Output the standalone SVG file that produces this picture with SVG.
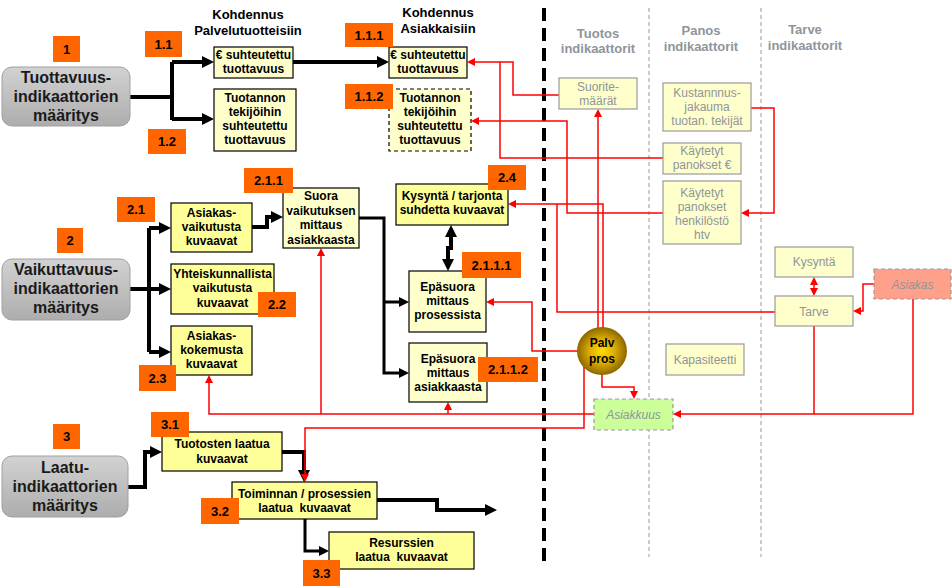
<svg xmlns="http://www.w3.org/2000/svg" width="952" height="586" viewBox="0 0 952 586">
<style>
.big{font-family:"Liberation Sans",Arial,sans-serif;font-size:16px;font-weight:bold;fill:#1a1a1a;text-anchor:middle}
.lbl rect{fill:#FF6600}
.lbl text{font-family:"Liberation Sans",Arial,sans-serif;font-size:13px;font-weight:bold;fill:#000;text-anchor:middle}
.yb{fill:#FFFF99;stroke:#000;stroke-width:1.2}
.yp{fill:#FFFFCC;stroke:#000;stroke-width:1.2}
.bt{font-family:"Liberation Sans",Arial,sans-serif;font-size:12px;font-weight:bold;fill:#000;text-anchor:middle}
.gb{fill:#FFFFCC;stroke:#999;stroke-width:1.2}
.gt{font-family:"Liberation Sans",Arial,sans-serif;font-size:12px;fill:#8E959B;text-anchor:middle}
.hd{font-family:"Liberation Sans",Arial,sans-serif;font-size:13px;font-weight:bold;fill:#000;text-anchor:middle}
.hg{font-family:"Liberation Sans",Arial,sans-serif;font-size:13px;font-weight:bold;fill:#8E959B;text-anchor:middle}
.k{fill:none;stroke:#000;stroke-width:4;stroke-linejoin:miter}
.k3{fill:none;stroke:#000;stroke-width:3}
.r{fill:none;stroke:#FF0000;stroke-width:1.5}
</style>
<defs>
<linearGradient id="gg" x1="0" y1="0" x2="0" y2="1"><stop offset="0" stop-color="#D2D2D2"/><stop offset="1" stop-color="#ADADAD"/></linearGradient>
<radialGradient id="gold" cx="0.5" cy="0.5" r="0.55"><stop offset="0" stop-color="#FFDD00"/><stop offset="0.45" stop-color="#E0AE00"/><stop offset="1" stop-color="#7A5A00"/></radialGradient>
<marker id="ab" markerUnits="userSpaceOnUse" viewBox="0 0 12 12" markerWidth="12" markerHeight="12" refX="6" refY="6" orient="auto-start-reverse"><path d="M0,0 L12,6 L0,12 z" fill="#000"/></marker>
<marker id="as" markerUnits="userSpaceOnUse" viewBox="0 0 10 10" markerWidth="10" markerHeight="10" refX="5" refY="5" orient="auto-start-reverse"><path d="M0,0 L10,5 L0,10 z" fill="#000"/></marker>
<marker id="ar" markerUnits="userSpaceOnUse" viewBox="0 0 8 8" markerWidth="8" markerHeight="8" refX="5" refY="4" orient="auto-start-reverse"><path d="M0,0 L8,4 L0,8 z" fill="#FF0000"/></marker>
</defs>
<rect width="952" height="586" fill="#fff"/>

<g id="separators">
<path d="M544,8 V562" stroke="#000" stroke-width="4" stroke-dasharray="13 7"/>
<path d="M649,8 V557 M761,8 V557" stroke="#999" stroke-width="1" stroke-dasharray="4 3"/>
</g>

<g id="headers">
<text class="hd" x="248" y="19">Kohdennus</text>
<text class="hd" x="248" y="35">Palvelutuotteisiin</text>
<text class="hd" x="438" y="17">Kohdennus</text>
<text class="hd" x="438" y="33">Asiakkaisiin</text>
<text class="hg" x="598" y="38">Tuotos</text>
<text class="hg" x="598" y="53">indikaattorit</text>
<text class="hg" x="701" y="35">Panos</text>
<text class="hg" x="701" y="51">indikaattorit</text>
<text class="hg" x="805" y="34">Tarve</text>
<text class="hg" x="805" y="50">indikaattorit</text>
</g>

<g id="connectors">
<path class="k" d="M130,97 H172 M172,62 V120"/>
<path class="k" d="M172,62 H208" marker-end="url(#ab)"/>
<path class="k" d="M172,119 H208" marker-end="url(#ab)"/>
<path class="k" d="M293,62 H383" marker-end="url(#ab)"/>
<path class="k" d="M130,289 H149 M149,228 V352"/>
<path class="k" d="M149,228 H165" marker-end="url(#ab)"/>
<path class="k" d="M149,289 H165" marker-end="url(#ab)"/>
<path class="k" d="M149,352 H165" marker-end="url(#ab)"/>
<path class="k" d="M252,227 H267 V217 H277" marker-end="url(#ab)"/>
<path class="k3" d="M359,218 H384 V373 H404" marker-end="url(#as)"/>
<path class="k3" d="M384,302 H404" marker-end="url(#as)"/>
<path class="k" d="M451,231 V248 H448 V265" marker-start="url(#ab)" marker-end="url(#ab)"/>
<path class="k" d="M128,487 H145 V452 H156" marker-end="url(#ab)"/>
<path class="k" d="M282,452 H304 V476" marker-end="url(#ab)"/>
<path class="k" d="M377,500 H437 V510 H491" marker-end="url(#ab)"/>
<path class="k3" d="M305,519 V551 H324" marker-end="url(#as)"/>

<path class="r" d="M559,95 H513 V62 H470" marker-end="url(#ar)"/>
<path class="r" d="M663,158 H500 V62"/>
<path class="r" d="M663,213 H567 V121 H474" marker-end="url(#ar)"/>
<path class="r" d="M751,108 H774 V213 H744" marker-end="url(#ar)"/>
<path class="r" d="M598,330 V112" marker-end="url(#ar)"/>
<path class="r" d="M603,330 V204 H511" marker-end="url(#ar)"/>
<path class="r" d="M775,312 H557 V204"/>
<path class="r" d="M578,351 H532 V302 H489" marker-end="url(#ar)"/>
<path class="r" d="M602,372 V387 H634 V396" marker-end="url(#ar)"/>
<path class="r" d="M584,366 V428 H305 V479" marker-end="url(#ar)"/>
<path class="r" d="M594,414 H209 V378" marker-end="url(#ar)"/>
<path class="r" d="M321,414 V251" marker-end="url(#ar)"/>
<path class="r" d="M448,414 V405" marker-end="url(#ar)"/>
<path class="r" d="M814,326 V414 H676" marker-end="url(#ar)"/>
<path class="r" d="M913,299 V414 H814"/>
<path class="r" d="M874,284 H863 V311 H856" marker-end="url(#ar)"/>
<path class="r" d="M814,280 V293" marker-start="url(#ar)" marker-end="url(#ar)"/>
</g>

<g id="n1">
<rect x="2" y="67" width="128" height="59" rx="10" fill="url(#gg)" stroke="#A0A0A0"/>
<text class="big" x="66" y="83">Tuottavuus-</text>
<text class="big" x="66" y="102">indikaattorien</text>
<text class="big" x="66" y="121">määritys</text>
</g>
<g id="n2">
<rect x="2" y="259" width="128" height="61" rx="10" fill="url(#gg)" stroke="#A0A0A0"/>
<text class="big" x="66" y="275">Vaikuttavuus-</text>
<text class="big" x="66" y="294">indikaattorien</text>
<text class="big" x="66" y="313">määritys</text>
</g>
<g id="n3">
<rect x="2" y="456" width="126" height="61" rx="10" fill="url(#gg)" stroke="#A0A0A0"/>
<text class="big" x="65" y="473">Laatu-</text>
<text class="big" x="65" y="492">indikaattorien</text>
<text class="big" x="65" y="511">määritys</text>
</g>

<g id="n11">
<rect class="yp" x="214" y="47" width="79" height="31"/>
<text class="bt" x="253.5" y="59">€ suhteutettu</text>
<text class="bt" x="253.5" y="73">tuottavuus</text>
</g>
<g id="n12">
<rect class="yp" x="214" y="89" width="82" height="62"/>
<text class="bt" x="255" y="102">Tuotannon</text>
<text class="bt" x="255" y="116">tekijöihin</text>
<text class="bt" x="255" y="130">suhteutettu</text>
<text class="bt" x="255" y="144">tuottavuus</text>
</g>
<g id="n111">
<rect class="yp" x="389" y="47" width="78" height="31"/>
<text class="bt" x="428" y="59">€ suhteutettu</text>
<text class="bt" x="428" y="73">tuottavuus</text>
</g>
<g id="n112">
<rect class="yp" x="389" y="89" width="82" height="62" stroke-dasharray="4 3"/>
<text class="bt" x="430" y="102">Tuotannon</text>
<text class="bt" x="430" y="116">tekijöihin</text>
<text class="bt" x="430" y="130">suhteutettu</text>
<text class="bt" x="430" y="144">tuottavuus</text>
</g>
<g id="n24">
<rect class="yb" x="396" y="184" width="112" height="41"/>
<text class="bt" x="452" y="200">Kysyntä / tarjonta</text>
<text class="bt" x="452" y="214">suhdetta kuvaavat</text>
</g>
<g id="n211">
<rect class="yp" x="283" y="188" width="76" height="60"/>
<text class="bt" x="321" y="200">Suora</text>
<text class="bt" x="321" y="214.5">vaikutuksen</text>
<text class="bt" x="321" y="229">mittaus</text>
<text class="bt" x="321" y="243.5">asiakkaasta</text>
</g>
<g id="n21">
<rect class="yb" x="171" y="203" width="81" height="49"/>
<text class="bt" x="211.5" y="217">Asiakas-</text>
<text class="bt" x="211.5" y="231">vaikutusta</text>
<text class="bt" x="211.5" y="245">kuvaavat</text>
</g>
<g id="n22">
<rect class="yb" x="171" y="264" width="103" height="50"/>
<text class="bt" x="222.5" y="278" font-size="11.5">Yhteiskunnallista</text>
<text class="bt" x="222.5" y="292">vaikutusta</text>
<text class="bt" x="222.5" y="307">kuvaavat</text>
</g>
<g id="n23">
<rect class="yb" x="171" y="326" width="81" height="49"/>
<text class="bt" x="211.5" y="340">Asiakas-</text>
<text class="bt" x="211.5" y="354">kokemusta</text>
<text class="bt" x="211.5" y="368">kuvaavat</text>
</g>
<g id="n2111">
<rect class="yp" x="409" y="271" width="77" height="61"/>
<text class="bt" x="447.5" y="291">Epäsuora</text>
<text class="bt" x="447.5" y="305">mittaus</text>
<text class="bt" x="447.5" y="319">prosessista</text>
</g>
<g id="n2112">
<rect class="yp" x="409" y="343" width="78" height="59"/>
<text class="bt" x="448" y="363">Epäsuora</text>
<text class="bt" x="448" y="377">mittaus</text>
<text class="bt" x="448" y="391">asiakkaasta</text>
</g>
<g id="n31">
<rect class="yb" x="162" y="432" width="120" height="39"/>
<text class="bt" x="222" y="448">Tuotosten laatua</text>
<text class="bt" x="222" y="463">kuvaavat</text>
</g>
<g id="n32">
<rect class="yb" x="232" y="482" width="145" height="37"/>
<text class="bt" x="304.5" y="498">Toiminnan / prosessien</text>
<text class="bt" x="304.5" y="512" style="white-space:pre">laatua  kuvaavat</text>
</g>
<g id="n33">
<rect class="yb" x="329" y="532" width="145" height="37"/>
<text class="bt" x="401.5" y="547">Resurssien</text>
<text class="bt" x="401.5" y="561" style="white-space:pre">laatua  kuvaavat</text>
</g>

<g id="suoritemaarat">
<rect class="gb" x="559" y="78" width="78" height="31"/>
<text class="gt" x="598" y="91">Suorite-</text>
<text class="gt" x="598" y="105">määrät</text>
</g>
<g id="kustannus">
<rect class="gb" x="663" y="83" width="88" height="48"/>
<text class="gt" x="707" y="97">Kustannnus-</text>
<text class="gt" x="707" y="111">jakauma</text>
<text class="gt" x="707" y="125">tuotan. tekijät</text>
</g>
<g id="panokset-eur">
<rect class="gb" x="663" y="143" width="78" height="31"/>
<text class="gt" x="702" y="155">Käytetyt</text>
<text class="gt" x="702" y="169">panokset €</text>
</g>
<g id="panokset-htv">
<rect class="gb" x="663" y="181" width="78" height="63"/>
<text class="gt" x="702" y="197">Käytetyt</text>
<text class="gt" x="702" y="211">panokset</text>
<text class="gt" x="702" y="225">henkilöstö</text>
<text class="gt" x="702" y="239">htv</text>
</g>
<g id="kysynta">
<rect class="gb" x="775" y="247" width="78" height="30"/>
<text class="gt" x="814" y="266">Kysyntä</text>
</g>
<g id="tarve">
<rect class="gb" x="775" y="296" width="78" height="30"/>
<text class="gt" x="814" y="316">Tarve</text>
</g>
<g id="asiakas">
<rect x="874" y="269" width="77" height="30" fill="#FFA08A" stroke="#999" stroke-width="1.2" stroke-dasharray="4 3"/>
<text class="gt" x="912.5" y="289" font-style="italic">Asiakas</text>
</g>
<g id="kapasiteetti">
<rect class="gb" x="666" y="344" width="78" height="31"/>
<text class="gt" x="705" y="364">Kapasiteetti</text>
</g>
<g id="asiakkuus">
<rect x="594" y="399" width="79" height="31" fill="#CCFF99" stroke="#999" stroke-width="1.2" stroke-dasharray="4 3"/>
<text class="gt" x="633.5" y="419" font-style="italic">Asiakkuus</text>
</g>
<g id="palvpros">
<ellipse cx="602" cy="351" rx="25" ry="24" fill="url(#gold)"/>
<text class="bt" x="602" y="347" font-size="14">Palv</text>
<text class="bt" x="602" y="363" font-size="14">pros</text>
</g>

<g id="labels" class="lbl">
<rect x="53" y="36" width="27" height="26"/><text x="66.5" y="54">1</text>
<rect x="145" y="31" width="37" height="26"/><text x="163.5" y="49">1.1</text>
<rect x="148" y="129" width="38" height="25"/><text x="167" y="146">1.2</text>
<rect x="345" y="23" width="48" height="24"/><text x="369" y="40">1.1.1</text>
<rect x="345" y="84" width="48" height="25"/><text x="369" y="101">1.1.2</text>
<rect x="488" y="165" width="38" height="25"/><text x="507" y="182">2.4</text>
<rect x="244" y="168" width="49" height="25"/><text x="268.5" y="185">2.1.1</text>
<rect x="57" y="228" width="26" height="25"/><text x="70" y="245">2</text>
<rect x="117" y="197" width="38" height="25"/><text x="136" y="214">2.1</text>
<rect x="258" y="292" width="38" height="25"/><text x="277" y="309">2.2</text>
<rect x="139" y="365" width="37" height="26"/><text x="157.5" y="383">2.3</text>
<rect x="462" y="252" width="59" height="26"/><text x="491.5" y="270">2.1.1.1</text>
<rect x="478" y="357" width="60" height="25"/><text x="508" y="374">2.1.1.2</text>
<rect x="53" y="424" width="27" height="25"/><text x="66.5" y="441">3</text>
<rect x="151" y="412" width="38" height="25"/><text x="170" y="429">3.1</text>
<rect x="201" y="498" width="38" height="26"/><text x="220" y="516">3.2</text>
<rect x="303" y="560" width="37" height="26"/><text x="321.5" y="578">3.3</text>
</g>
</svg>
